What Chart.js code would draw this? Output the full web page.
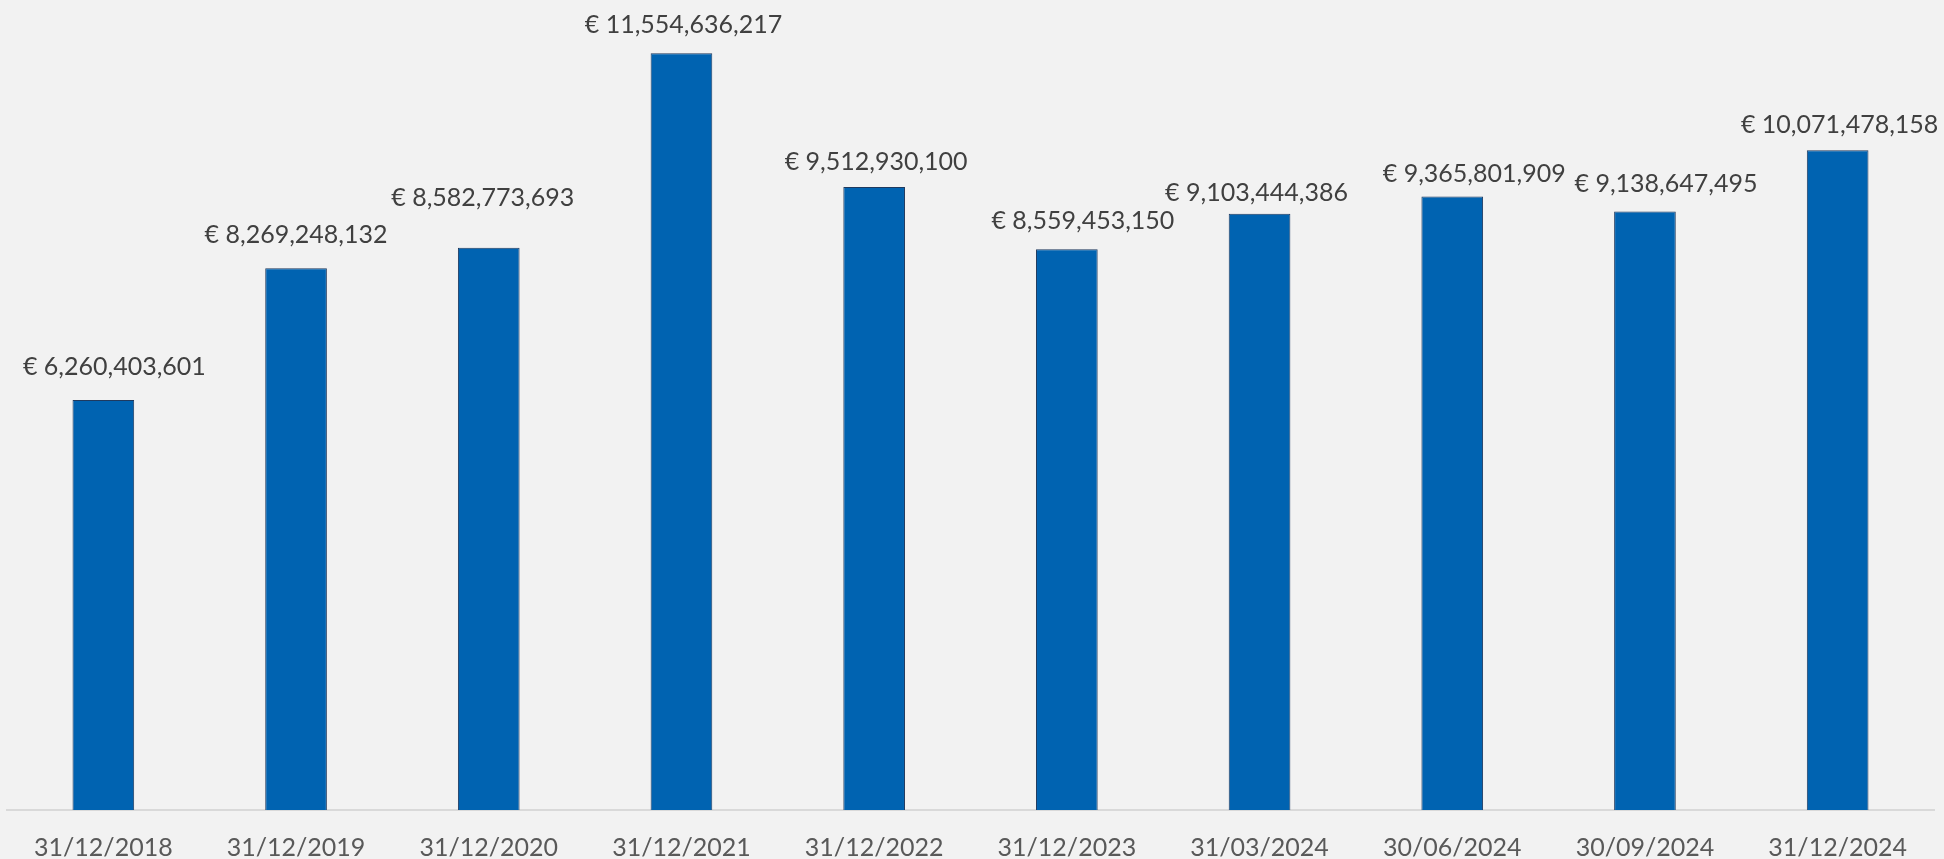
<!DOCTYPE html>
<html>
<head>
<meta charset="utf-8">
<script src="https://cdn.jsdelivr.net/npm/chart.js@4/dist/chart.umd.min.js"></script>
<style>
  html, body { margin: 0; padding: 0; background: #f2f2f2; }
  #wrap { width: 1944px; height: 859px; }
</style>
</head>
<body>
<div id="wrap"><canvas id="valueChart" width="1944" height="859"></canvas></div>
<script>
const dateLabels = [
  '31/12/2018', '31/12/2019', '31/12/2020', '31/12/2021', '31/12/2022',
  '31/12/2023', '31/03/2024', '30/06/2024', '30/09/2024', '31/12/2024',
];
const totalValues = [
  6260403601, 8269248132, 8582773693, 11554636217, 9512930100,
  8559453150, 9103444386, 9365801909, 9138647495, 10071478158,
];
const axisMin = 0;
const axisMax = 12000000000;

// labels were nudged by hand in the original, keep that [dx, dy]
const labelNudge = [
  [11, -9], [0, -9], [-6, -26], [2, -4], [2, -1],
  [16, -4], [-3, 3], [22, 1], [21, -3], [2, -1],
];

const fontFamily = 'Lato, "Open Sans", sans-serif';

function euro(v) {
  return '€ ' + v.toLocaleString('en-US');
}

/** value labels above the bars */
const barLabels = {
  id: 'barLabels',
  afterDatasetsDraw(chart) {
    const ctx = chart.ctx;
    const meta = chart.getDatasetMeta(0);
    ctx.save();
    ctx.font = '25px ' + fontFamily;
    ctx.fillStyle = '#404040';
    ctx.textAlign = 'center';
    ctx.textBaseline = 'alphabetic';
    meta.data.forEach((bar, i) => {
      const n = labelNudge[i] || [0, 0];
      ctx.fillText(euro(totalValues[i]), bar.x + n[0], bar.y - 16 + n[1]);
    });
    ctx.restore();
  },
};

function drawChart() {
  const canvas = document.getElementById('valueChart');
  new Chart(canvas.getContext('2d'), {
    type: 'bar',
    data: {
      labels: dateLabels,
      datasets: [{
        data: totalValues,
        backgroundColor: '#0063b1',
        borderColor: '#1f3a5f',
        borderWidth: 1,
        barPercentage: 0.32,
        categoryPercentage: 1,
      }],
    },
    options: {
      responsive: false,
      animation: false,
      layout: {
        padding: { left: 7, right: 10, top: 24, bottom: 0 },
      },
      plugins: {
        legend: { display: false },
        tooltip: { enabled: false },
      },
      scales: {
        x: {
          grid: { display: false, drawTicks: false },
          border: { display: true, color: '#d9d9d9', width: 2 },
          ticks: {
            color: '#595959',
            padding: 23,
            maxRotation: 0,
            autoSkip: false,
            font: { family: fontFamily, size: 25, lineHeight: 1.2 },
          },
          // fixed axis band so the plot ends where the original does
          afterFit(scale) {
            scale.height = 49;
          },
        },
        y: {
          display: false,
          min: axisMin,
          max: axisMax,
        },
      },
    },
    plugins: [barLabels],
  });
}

drawChart();
</script>
</body>
</html>
